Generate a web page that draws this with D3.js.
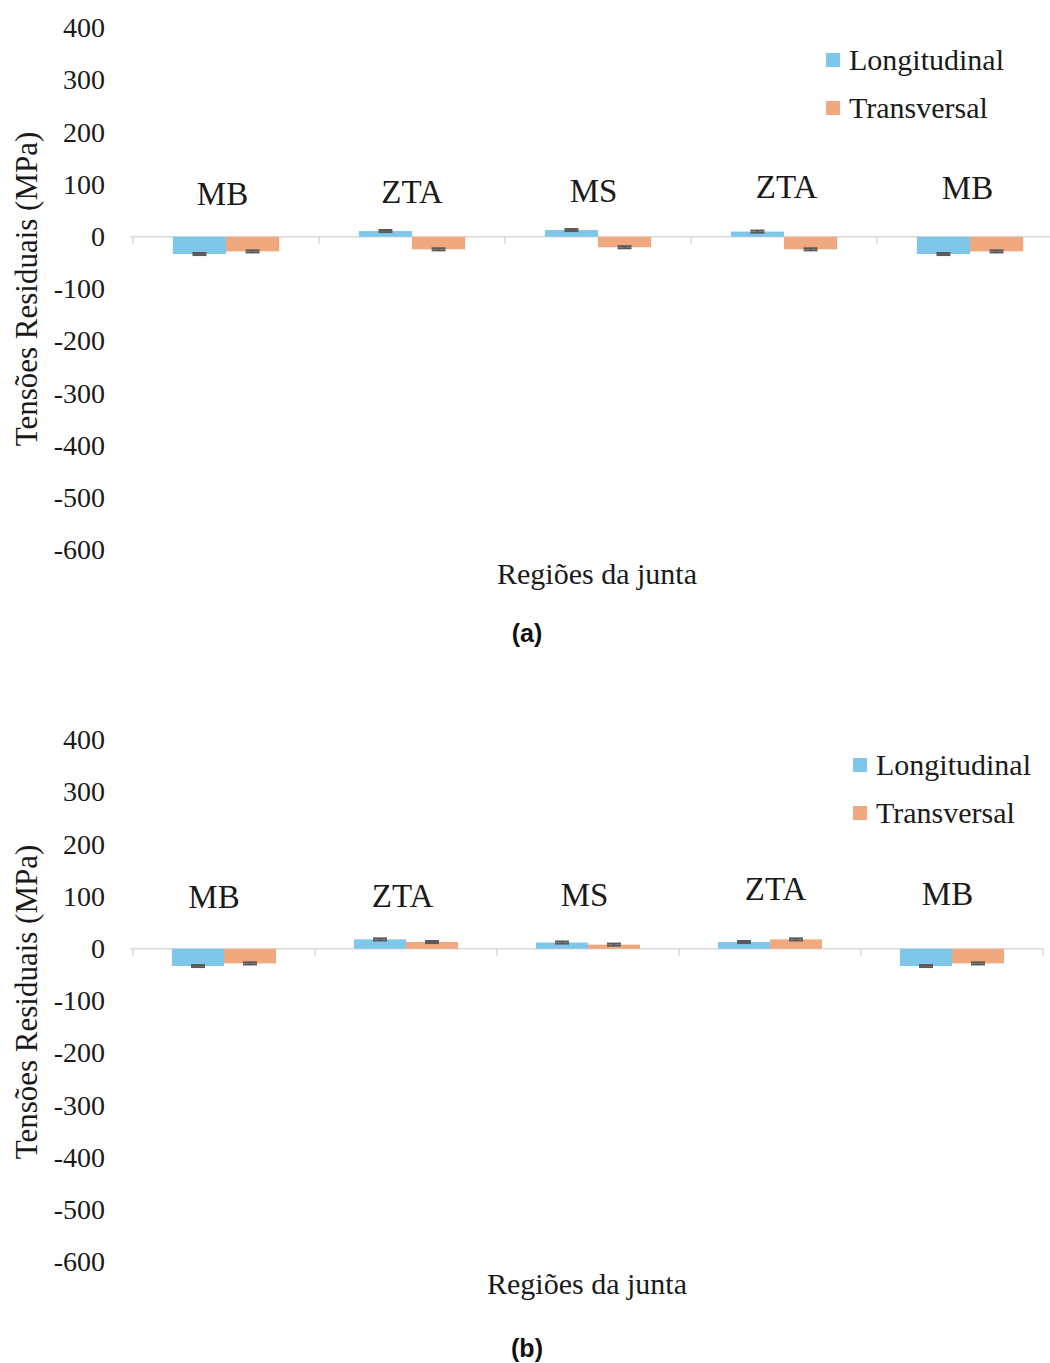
<!DOCTYPE html>
<html>
<head>
<meta charset="utf-8">
<script src="https://cdn.jsdelivr.net/npm/d3@7"></script>
<style>
  html, body { margin: 0; padding: 0; background: #fff; }
  svg { display: block; }
</style>
</head>
<body>
<svg id="chart" width="1050" height="1363"></svg>
<script>
// ---------------- DATA ----------------
const categories = ["MB", "ZTA", "MS", "ZTA", "MB"];
const seriesNames = ["Longitudinal", "Transversal"];
const yTickValues = [400, 300, 200, 100, 0, -100, -200, -300, -400, -500, -600];

// Panel (a)
const longitudinalA = [-33, 11, 13, 10, -33];
const transversalA  = [-28, -24, -20, -24, -28];
const longitudinalErrA = [2, 2, 2, 2, 2];
const transversalErrA  = [2, 2, 2, 2, 2];

// Panel (b)
const longitudinalB = [-33, 18, 12, 13, -33];
const transversalB  = [-28, 13, 8, 18, -28];
const longitudinalErrB = [2, 2, 2, 2, 2];
const transversalErrB  = [2, 2, 2, 2, 2];

// ---------------- STYLE / LAYOUT ----------------
const colors = { Longitudinal: "#7fc7ea", Transversal: "#f0a97e" };
const serif = "'Liberation Serif', 'Times New Roman', serif";
const sans = "'Liberation Sans', Arial, sans-serif";

const svg = d3.select("#chart");

function drawPanel(cfg) {
  const g = svg.append("g");
  const y = d3.scaleLinear().domain([-600, 400]).range([cfg.yBottom, cfg.yTop]);
  const x = d3.scaleBand().domain(d3.range(categories.length)).range([cfg.xLeft, cfg.xRight]).padding(0);
  const xs = d3.scaleBand().domain(seriesNames).range([0, x.bandwidth()]).paddingInner(0).paddingOuter(0.75);

  // y tick labels
  g.selectAll("text.ytick").data(yTickValues).join("text")
    .attr("class", "ytick")
    .attr("x", 105)
    .attr("y", d => y(d))
    .attr("dy", "0.33em")
    .attr("text-anchor", "end")
    .attr("font-family", serif)
    .attr("font-size", 28)
    .attr("fill", "#1a1a1a")
    .text(d => d);

  // zero axis line
  g.append("line")
    .attr("x1", cfg.xLeft - 3).attr("x2", cfg.axisEnd)
    .attr("y1", y(0)).attr("y2", y(0))
    .attr("stroke", "#d9d9d9").attr("stroke-width", 1.5);

  // category boundary ticks
  const bounds = d3.range(categories.length + 1).map(i => cfg.xLeft + i * x.step());
  g.selectAll("line.ctick").data(bounds.filter(b => b <= 1050)).join("line")
    .attr("class", "ctick")
    .attr("x1", d => d).attr("x2", d => d)
    .attr("y1", y(0)).attr("y2", y(0) + 7)
    .attr("stroke", "#d9d9d9").attr("stroke-width", 1.5);

  // bars
  const rows = [];
  categories.forEach((c, i) => {
    rows.push({ i, s: "Longitudinal", v: cfg.long[i], e: cfg.longErr[i] });
    rows.push({ i, s: "Transversal", v: cfg.trans[i], e: cfg.transErr[i] });
  });

  g.selectAll("rect.bar").data(rows).join("rect")
    .attr("class", "bar")
    .attr("x", d => x(d.i) + xs(d.s))
    .attr("width", xs.bandwidth())
    .attr("y", d => Math.min(y(d.v), y(0)))
    .attr("height", d => Math.abs(y(d.v) - y(0)))
    .attr("fill", d => colors[d.s]);

  // error bars
  const capW = 14;
  const eg = g.selectAll("g.err").data(rows).join("g").attr("class", "err");
  eg.append("line")
    .attr("x1", d => x(d.i) + xs(d.s) + xs.bandwidth() / 2)
    .attr("x2", d => x(d.i) + xs(d.s) + xs.bandwidth() / 2)
    .attr("y1", d => y(d.v + d.e)).attr("y2", d => y(d.v - d.e))
    .attr("stroke", "#595959").attr("stroke-width", 2);
  ["plus", "minus"].forEach(side => {
    eg.append("line")
      .attr("x1", d => x(d.i) + xs(d.s) + xs.bandwidth() / 2 - capW / 2)
      .attr("x2", d => x(d.i) + xs(d.s) + xs.bandwidth() / 2 + capW / 2)
      .attr("y1", d => y(side === "plus" ? d.v + d.e : d.v - d.e))
      .attr("y2", d => y(side === "plus" ? d.v + d.e : d.v - d.e))
      .attr("stroke", "#595959").attr("stroke-width", 2);
  });

  // category labels (text boxes above the bars)
  g.selectAll("text.cat").data(categories).join("text")
    .attr("class", "cat")
    .attr("x", (d, i) => x(i) + x.bandwidth() / 2 + cfg.labelDx[i])
    .attr("y", (d, i) => cfg.labelBase[i])
    .attr("text-anchor", "middle")
    .attr("font-family", serif)
    .attr("font-size", 33)
    .attr("fill", "#1a1a1a")
    .text(d => d);

  // y axis title
  g.append("text")
    .attr("transform", `translate(37,${cfg.yTitleY}) rotate(-90)`)
    .attr("text-anchor", "middle")
    .attr("font-family", serif)
    .attr("font-size", 31)
    .attr("fill", "#1a1a1a")
    .text("Tensões Residuais (MPa)");

  // x axis title
  g.append("text")
    .attr("x", cfg.xTitleX).attr("y", cfg.xTitleY)
    .attr("text-anchor", "middle")
    .attr("font-family", serif)
    .attr("font-size", 30)
    .attr("fill", "#1a1a1a")
    .text("Regiões da junta");

  // legend
  const lg = g.append("g");
  seriesNames.forEach((s, k) => {
    lg.append("rect")
      .attr("x", cfg.legendX).attr("y", cfg.legendY + k * 48)
      .attr("width", 14).attr("height", 14)
      .attr("fill", colors[s]);
    lg.append("text")
      .attr("x", cfg.legendX + 23).attr("y", cfg.legendY + k * 48 + 17)
      .attr("font-family", serif)
      .attr("font-size", 30)
      .attr("fill", "#1a1a1a")
      .text(s);
  });

  // panel caption
  g.append("text")
    .attr("x", 527).attr("y", cfg.captionY)
    .attr("text-anchor", "middle")
    .attr("font-family", sans)
    .attr("font-weight", "bold")
    .attr("font-size", 25)
    .attr("fill", "#111")
    .text(cfg.caption);
}

drawPanel({
  yTop: 28, yBottom: 550, xLeft: 133, xRight: 1063, axisEnd: 1050,
  long: longitudinalA, trans: transversalA, longErr: longitudinalErrA, transErr: transversalErrA,
  labelDx: [-3.5, 0, -4.5, 2.5, -2.5], labelBase: [205, 203, 202, 198, 199],
  yTitleY: 289, xTitleX: 597, xTitleY: 584,
  legendX: 826, legendY: 53, captionY: 642, caption: "(a)"
});

drawPanel({
  yTop: 740, yBottom: 1262, xLeft: 133, xRight: 1043, axisEnd: 1043,
  long: longitudinalB, trans: transversalB, longErr: longitudinalErrB, transErr: transversalErrB,
  labelDx: [-10, -3.5, -3.5, 5.5, -4.5], labelBase: [908, 907, 906, 900, 905],
  yTitleY: 1002, xTitleX: 587, xTitleY: 1294,
  legendX: 853, legendY: 758, captionY: 1357, caption: "(b)"
});
</script>
</body>
</html>
